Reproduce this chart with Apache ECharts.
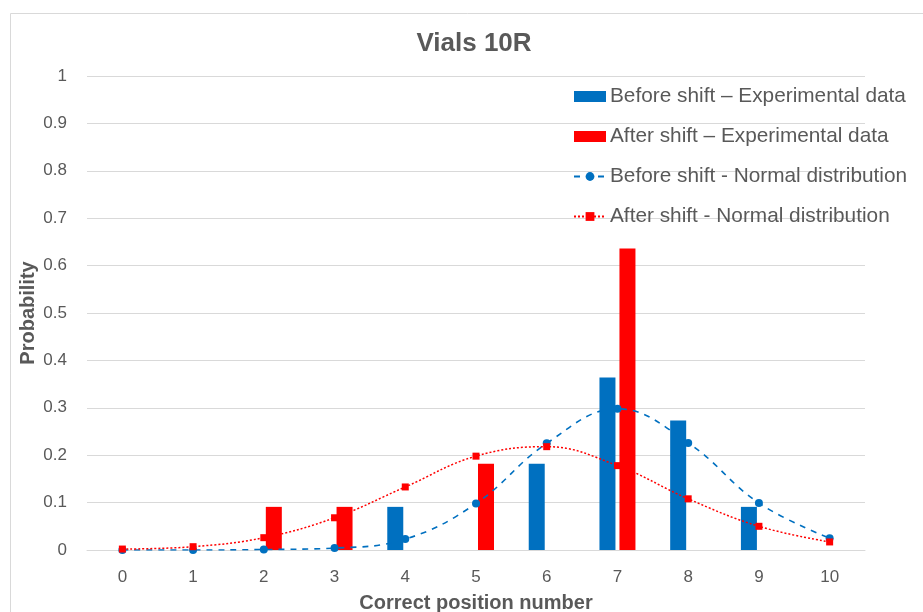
<!DOCTYPE html>
<html><head><meta charset="utf-8">
<script src="https://cdn.jsdelivr.net/npm/echarts@6/dist/echarts.min.js"></script>
<style>html,body{margin:0;padding:0;background:#fff;overflow:hidden}#c{width:923px;height:612px}</style>
</head><body><div id="c"></div>
<script>
var categories = ['0','1','2','3','4','5','6','7','8','9','10'];
var beforeExp = [0, 0, 0, 0, 0.091, 0, 0.182, 0.364, 0.273, 0.091, 0];
var afterExp = [0, 0, 0.091, 0.091, 0, 0.182, 0, 0.636, 0, 0, 0];
var beforeNorm = [0, 0, 0.001, 0.004, 0.023, 0.098, 0.225, 0.298, 0.226, 0.099, 0.025];
var afterNorm = [0.002, 0.007, 0.026, 0.068, 0.133, 0.198, 0.218, 0.178, 0.108, 0.05, 0.017];
var yTicks = [0, 0.1, 0.2, 0.3, 0.4, 0.5, 0.6, 0.7, 0.8, 0.9, 1];

var FONT = 'Liberation Sans';
var chart = echarts.init(document.getElementById('c'), null, {width: 923, height: 612});
chart.setOption({
  animation: false,
  textStyle: {fontFamily: FONT},
  graphic: [{type: 'rect', shape: {x: 10.5, y: 13.5, width: 930, height: 620}, style: {fill: 'none', stroke: '#d9d9d9', lineWidth: 1}, z: -10}],
  title: {text: 'Vials 10R', left: 474, top: 31, textAlign: 'center', padding: 0,
    textStyle: {fontFamily: FONT, fontSize: 26, fontWeight: 'bold', color: '#595959'}},
  grid: {left: 87, right: 58, top: 76, bottom: 62, containLabel: false, outerBoundsMode: 'none'},
  legend: {orient: 'vertical', left: 573, top: 86, padding: 0, itemWidth: 32, itemHeight: 11, itemGap: 19,
    textStyle: {fontFamily: FONT, fontSize: 20.8, color: '#595959', padding: [0,0,0,-1]},
    data: [
      {name: 'Before shift – Experimental data', icon: 'rect'},
      {name: 'After shift – Experimental data', icon: 'rect'},
      {name: 'Before shift - Normal distribution'},
      {name: 'After shift - Normal distribution'}]},
  xAxis: {type: 'category', data: categories, boundaryGap: true,
    axisLine: {show: true, lineStyle: {color: '#d9d9d9'}}, axisTick: {show: false},
    axisLabel: {fontFamily: FONT, fontSize: 17, color: '#595959', margin: 19},
    name: 'Correct position number', nameLocation: 'middle', nameGap: 43,
    nameTextStyle: {fontFamily: FONT, fontSize: 20, fontWeight: 'bold', color: '#595959'}},
  yAxis: {type: 'value', min: 0, max: 1, interval: 0.1,
    axisLine: {show: false}, axisTick: {show: false},
    splitLine: {lineStyle: {color: '#d9d9d9'}},
    axisLabel: {fontFamily: FONT, fontSize: 17, color: '#595959', margin: 20,
      formatter: function (v) { return String(Math.round(v * 10) / 10); }},
    name: 'Probability', nameLocation: 'middle', nameGap: 49, nameRotate: 90, nameMoveOverlap: false,
    nameTextStyle: {fontFamily: FONT, fontSize: 20, fontWeight: 'bold', color: '#595959'}},
  series: [
    {name: 'Before shift – Experimental data', type: 'bar', data: beforeExp, barWidth: 16, barGap: '25%',
      itemStyle: {color: '#0070c0'}},
    {name: 'After shift – Experimental data', type: 'bar', data: afterExp, barWidth: 16, barGap: '25%',
      itemStyle: {color: '#ff0000'}},
    {name: 'Before shift - Normal distribution', type: 'line', data: beforeNorm, smooth: 0.4,
      symbol: 'circle', symbolSize: 8, lineStyle: {color: '#0070c0', width: 1.6, type: [6, 6]},
      itemStyle: {color: '#0070c0'}, z: 5},
    {name: 'After shift - Normal distribution', type: 'line', data: afterNorm, smooth: 0.4,
      symbol: 'rect', symbolSize: 7, lineStyle: {color: '#ff0000', width: 1.5, type: [2, 2]},
      itemStyle: {color: '#ff0000'}, z: 5}
  ]
});
</script></body></html>
